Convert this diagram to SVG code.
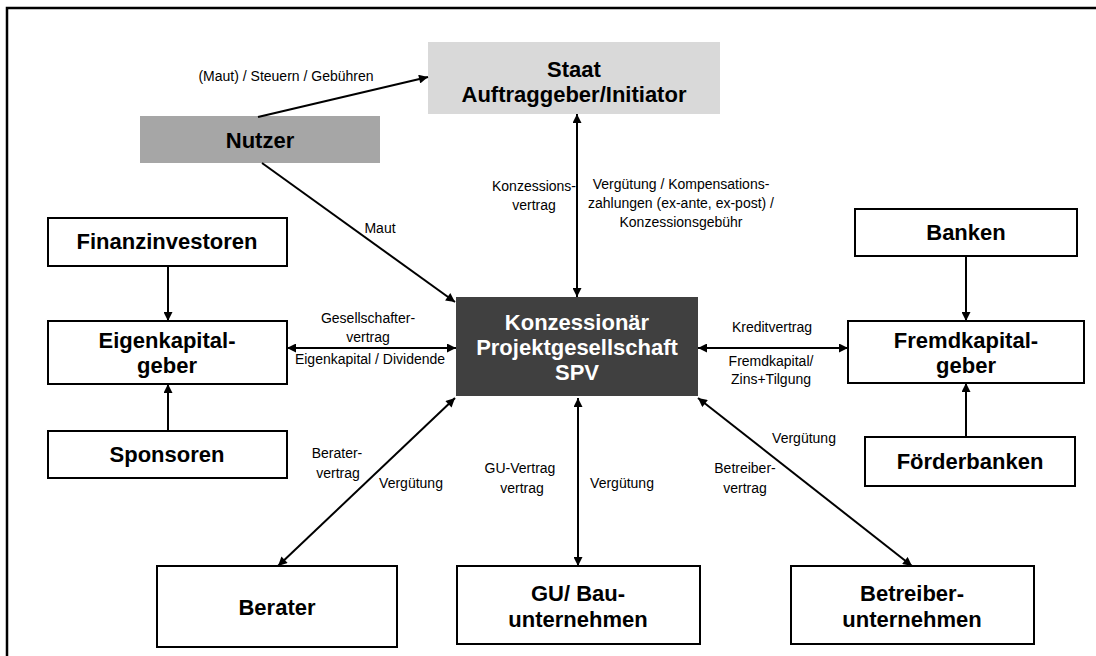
<svg xmlns="http://www.w3.org/2000/svg" width="1096" height="656" viewBox="0 0 1096 656">
<defs>
<marker id="ah" viewBox="0 0 10 10" refX="10" refY="5" markerWidth="10" markerHeight="9" markerUnits="userSpaceOnUse" orient="auto-start-reverse">
<path d="M0,0 L10,5 L0,10 z" fill="#000"/>
</marker>
<style>
.box{fill:#fff;stroke:#000;stroke-width:2}
.nt{font-family:"Liberation Sans",Arial,sans-serif;font-weight:bold;font-size:22px;fill:#000;text-anchor:middle}
.wt{fill:#fff}
.lb{font-family:"Liberation Sans",Arial,sans-serif;font-size:14px;fill:#000;text-anchor:middle}
.c{stroke:#000;stroke-width:2;fill:none}
.one{marker-end:url(#ah)}
.two{marker-start:url(#ah);marker-end:url(#ah)}
</style>
</defs>
<rect x="0" y="0" width="1096" height="656" fill="#fff"/>
<path d="M7,660 L7,8 L1100,8" fill="none" stroke="#000" stroke-width="2.5"/>

<g id="staat">
<rect x="428" y="42" width="292" height="72" fill="#d9d9d9"/>
<text class="nt" x="574" y="77">Staat</text>
<text class="nt" x="574" y="102">Auftraggeber/Initiator</text>
</g>
<g id="nutzer">
<rect x="140" y="116" width="240" height="47" fill="#a6a6a6"/>
<text class="nt" x="260" y="148">Nutzer</text>
</g>
<g id="finanzinvestoren">
<rect class="box" x="48" y="218" width="239" height="48"/>
<text class="nt" x="167" y="249">Finanzinvestoren</text>
</g>
<g id="eigenkapitalgeber">
<rect class="box" x="48" y="321" width="239" height="63"/>
<text class="nt" x="167" y="348">Eigenkapital-</text>
<text class="nt" x="167" y="373">geber</text>
</g>
<g id="sponsoren">
<rect class="box" x="48" y="431" width="239" height="47"/>
<text class="nt" x="167" y="462">Sponsoren</text>
</g>
<g id="spv">
<rect x="456" y="297" width="242" height="99" fill="#404040"/>
<text class="nt wt" x="577" y="330">Konzessionär</text>
<text class="nt wt" x="577" y="355">Projektgesellschaft</text>
<text class="nt wt" x="577" y="380">SPV</text>
</g>
<g id="banken">
<rect class="box" x="855" y="209" width="222" height="47"/>
<text class="nt" x="966" y="240">Banken</text>
</g>
<g id="fremdkapitalgeber">
<rect class="box" x="848" y="321" width="236" height="62"/>
<text class="nt" x="966" y="348">Fremdkapital-</text>
<text class="nt" x="966" y="373">geber</text>
</g>
<g id="foerderbanken">
<rect class="box" x="865" y="437" width="210" height="49"/>
<text class="nt" x="970" y="469">Förderbanken</text>
</g>
<g id="berater">
<rect class="box" x="157" y="566" width="240" height="81"/>
<text class="nt" x="277" y="615">Berater</text>
</g>
<g id="gu">
<rect class="box" x="457" y="566" width="243" height="78"/>
<text class="nt" x="578" y="601">GU/ Bau-</text>
<text class="nt" x="578" y="627">unternehmen</text>
</g>
<g id="betreiber">
<rect class="box" x="791" y="566" width="243" height="78"/>
<text class="nt" x="912" y="601">Betreiber-</text>
<text class="nt" x="912" y="627">unternehmen</text>
</g>

<g id="connectors">
<line class="c one" x1="258" y1="117" x2="428" y2="77"/>
<line class="c one" x1="262" y1="163" x2="455" y2="302"/>
<line class="c two" x1="577" y1="114" x2="577" y2="297"/>
<line class="c one" x1="168" y1="266" x2="168" y2="321"/>
<line class="c one" x1="168" y1="431" x2="168" y2="384"/>
<line class="c two" x1="287" y1="348" x2="456" y2="348"/>
<line class="c two" x1="698" y1="348" x2="848" y2="348"/>
<line class="c one" x1="966" y1="256" x2="966" y2="321"/>
<line class="c one" x1="966" y1="437" x2="966" y2="383"/>
<line class="c two" x1="455" y1="398" x2="278" y2="566"/>
<line class="c two" x1="578" y1="398" x2="578" y2="566"/>
<line class="c two" x1="698" y1="398" x2="912" y2="566"/>
</g>

<g id="labels">
<text class="lb" x="286" y="81">(Maut) / Steuern / Gebühren</text>
<text class="lb" x="380" y="233">Maut</text>
<text class="lb" x="534" y="191">Konzessions-</text>
<text class="lb" x="534" y="210">vertrag</text>
<text class="lb" x="681" y="189">Vergütung / Kompensations-</text>
<text class="lb" x="681" y="208">zahlungen (ex-ante, ex-post) /</text>
<text class="lb" x="681" y="227">Konzessionsgebühr</text>
<text class="lb" x="368" y="323">Gesellschafter-</text>
<text class="lb" x="368" y="342">vertrag</text>
<text class="lb" x="370" y="364">Eigenkapital / Dividende</text>
<text class="lb" x="772" y="332">Kreditvertrag</text>
<text class="lb" x="771" y="366">Fremdkapital/</text>
<text class="lb" x="771" y="384">Zins+Tilgung</text>
<text class="lb" x="337" y="458">Berater-</text>
<text class="lb" x="338" y="478">vertrag</text>
<text class="lb" x="411" y="488">Vergütung</text>
<text class="lb" x="520" y="473">GU-Vertrag</text>
<text class="lb" x="522" y="493">vertrag</text>
<text class="lb" x="622" y="488">Vergütung</text>
<text class="lb" x="745" y="473">Betreiber-</text>
<text class="lb" x="745" y="493">vertrag</text>
<text class="lb" x="804" y="443">Vergütung</text>
</g>
</svg>
